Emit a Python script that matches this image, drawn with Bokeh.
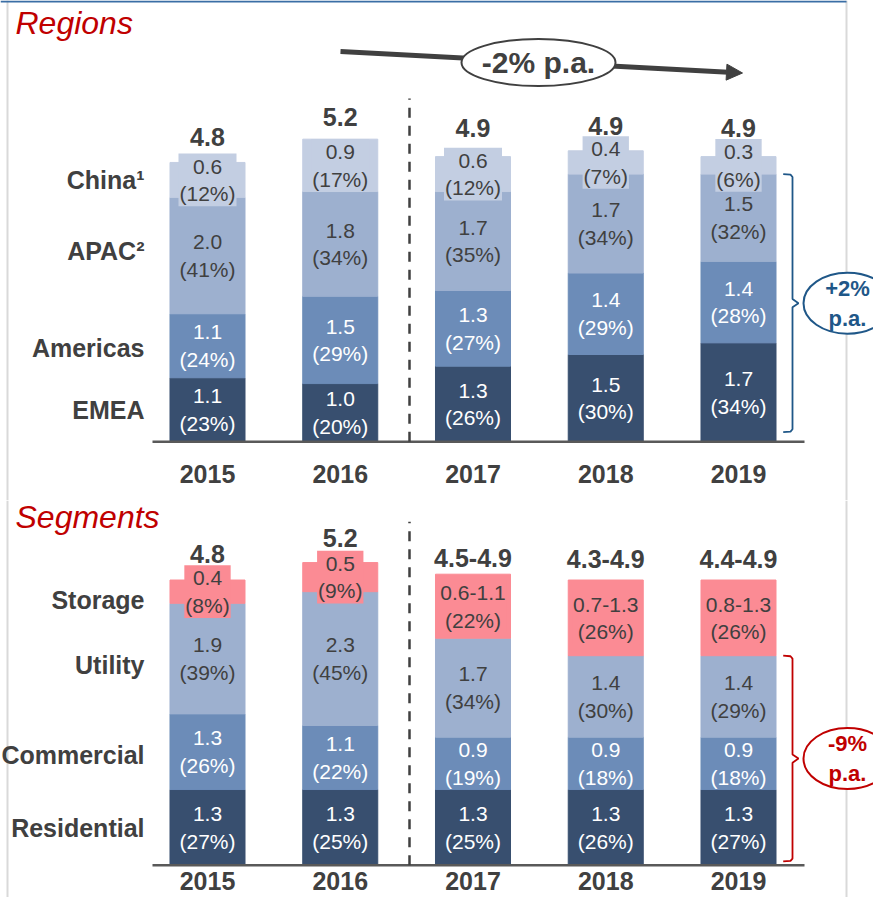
import numpy as np
from bokeh.plotting import figure
from bokeh.layouts import column
from bokeh.models import ColumnDataSource, Range1d, Span, Arrow, NormalHead
from bokeh.core.properties import value
from bokeh.embed import file_html
from bokeh.resources import INLINE

# ---------------- data ----------------
years = ["2015", "2016", "2017", "2018", "2019"]

region_names = ["EMEA", "Americas", "APAC²", "China¹"]
emea = [1.1, 1.0, 1.3, 1.5, 1.7]
emea_pct = [23, 20, 26, 30, 34]
americas = [1.1, 1.5, 1.3, 1.4, 1.4]
americas_pct = [24, 29, 27, 29, 28]
apac = [2.0, 1.8, 1.7, 1.7, 1.5]
apac_pct = [41, 34, 35, 34, 32]
china = [0.6, 0.9, 0.6, 0.4, 0.3]
china_pct = [12, 17, 12, 7, 6]
region_totals = ["4.8", "5.2", "4.9", "4.9", "4.9"]
region_trend = "-2% p.a."
region_ex_china_trend = "+2%\np.a."

segment_names = ["Residential", "Commercial", "Utility", "Storage"]
residential = [1.3, 1.3, 1.3, 1.3, 1.3]
residential_pct = [27, 25, 25, 26, 27]
commercial = [1.3, 1.1, 0.9, 0.9, 0.9]
commercial_pct = [26, 22, 19, 18, 18]
utility = [1.9, 2.3, 1.7, 1.4, 1.4]
utility_pct = [39, 45, 34, 30, 29]
storage_low = [0.4, 0.5, 0.6, 0.7, 0.8]
storage_high = [0.4, 0.5, 1.1, 1.3, 1.3]
storage_pct = [8, 9, 22, 26, 26]
segment_totals = ["4.8", "5.2", "4.5-4.9", "4.3-4.9", "4.4-4.9"]
segment_ex_storage_trend = "-9%\np.a."

# ---------------- style ----------------
FONT = value("Liberation Sans")
DARK = "#404040"
C_NAVY = "#384F6F"
C_MID = "#6C8CB8"
C_LIGHT = "#9DB0CF"
C_PALE = "#C3CEE2"
C_PINK = "#FB8B94"
RED = "#C00000"
BLUE = "#1F5788"

W = 873
H1, H2 = 500, 397
PX_X = 132.75          # px per category
PX_Y = 58.2            # px per unit
X0 = 207               # px of first bar centre
BASE1 = 441.3          # baseline px from top, top figure
BASE2 = 364.7          # baseline px from top, bottom figure
BAR_W = 0.565

# label offsets (px) of the total above each bar
top_total_dy = [-25, -22, -29, -25, -29]
bot_total_dy = [-26, -25, -16, -21.5, -21.5]


def dx(px):
    return (px - X0) / PX_X


def dy1(py):
    return (BASE1 - py) / PX_Y


def dy2(py):
    return (BASE2 + H1 - py) / PX_Y


idx = list(range(len(years)))


def make_fig(h, base):
    p = figure(width=W, height=h,
               x_range=Range1d(-X0 / PX_X, (W - X0) / PX_X),
               y_range=Range1d(-(h - base) / PX_Y, base / PX_Y),
               x_axis_type=None, y_axis_type=None,
               output_backend="svg", toolbar_location=None,
               min_border=0, outline_line_color=None,
               background_fill_color="white", border_fill_color="white")
    for xpx in (7, 846):
        p.add_layout(Span(location=dx(xpx), dimension="height",
                          line_color="#D9D9D9", line_width=2, level="underlay"))
    return p


def draw_panel(p, series, pcts, labels_txt, colors, text_colors, names,
               name_dy, totals, total_dy, title, ydata):
    data = {"x": idx}
    keys = []
    for i, s in enumerate(series):
        k = f"s{i}"
        keys.append(k)
        data[k] = s
    src = ColumnDataSource(data)
    p.vbar_stack(keys, x="x", width=BAR_W, fill_color=colors,
                 line_color=colors, line_width=1, source=src)

    bottoms = np.zeros(len(idx))
    centers_first = []
    for i, s in enumerate(series):
        s = np.array(s, dtype=float)
        mid = bottoms + s / 2
        centers_first.append(mid[0])
        txt = [f"{labels_txt[i][j]}\n({pcts[i][j]}%)" for j in idx]
        kw = {}
        if i == len(series) - 1:
            kw = dict(background_fill_color=colors[i], padding=1)
        p.text(x=idx, y=list(mid), text=txt, text_font=FONT,
               text_font_size="21px", text_color=text_colors[i],
               text_align="center", text_baseline="middle",
               text_line_height=1.2, **kw)
        bottoms = bottoms + s

    # category names
    nsrc = ColumnDataSource(dict(x=[0] * len(names), y=centers_first,
                                 t=names, dy=name_dy))
    p.text(x="x", y="y", text="t", y_offset="dy", x_offset=-63, source=nsrc,
           text_font=FONT, text_font_size="25px", text_font_style="bold",
           text_color=DARK, text_align="right", text_baseline="middle")

    # totals
    tsrc = ColumnDataSource(dict(x=idx, y=list(bottoms), t=totals, dy=total_dy))
    p.text(x="x", y="y", text="t", y_offset="dy", source=tsrc,
           text_font=FONT, text_font_size="25px", text_font_style="bold",
           text_color=DARK, text_align="center", text_baseline="middle")

    # baseline
    p.segment(x0=[dx(152)], y0=[0], x1=[dx(804)], y1=[0],
              line_color="#595959", line_width=2.5)

    # dashed separator between actuals and forecast
    p.segment(x0=[dx(409)], y0=[0], x1=[dx(409)], y1=[5.9],
              line_color=DARK, line_width=2.5, line_dash="10 8")

    # title
    p.text(x=[dx(15)], y=[ydata], text=[title], text_font=FONT,
           text_font_size="32px", text_font_style="italic",
           text_color=RED, text_align="left", text_baseline="middle")
    return bottoms


def bracket(p, x_v, y_top, y_bot, color):
    ym = (y_top + y_bot) / 2
    h = 0.07
    xs = [x_v - 0.07, x_v - 0.015, x_v, x_v, x_v + 0.045, x_v, x_v, x_v - 0.015, x_v - 0.07]
    ys = [y_top, y_top - 0.01, y_top - 0.05, ym + h, ym, ym - h, y_bot + 0.05, y_bot + 0.01, y_bot]
    p.line(xs, ys, line_color=color, line_width=1.8)
    return ym


# ---------------- top: regions ----------------
p1 = make_fig(H1, BASE1)
# header rule at the very top
p1.segment(x0=[dx(0)], y0=[dy1(1)], x1=[dx(846)], y1=[dy1(1)],
           line_color="#3A6EA5", line_width=2)
draw_panel(p1, [emea, americas, apac, china],
           [emea_pct, americas_pct, apac_pct, china_pct],
           [[f"{v:.1f}" for v in s] for s in [emea, americas, apac, china]],
           [C_NAVY, C_MID, C_LIGHT, C_PALE],
           ["white", "white", DARK, DARK],
           region_names, [0, 2, -5, 0], region_totals, top_total_dy,
           "Regions", dy1(22))

p1.text(x=idx, y=[0] * len(idx), text=years, y_offset=32,
        text_font=FONT, text_font_size="25px", text_font_style="bold",
        text_color=DARK, text_align="center", text_baseline="middle")

p1.add_layout(Arrow(end=NormalHead(size=16, fill_color=DARK, line_color=DARK),
                    x_start=dx(340), y_start=dy1(51), x_end=dx(742), y_end=dy1(72.5),
                    line_width=5, line_color=DARK, level="underlay"))
p1.ellipse(x=[dx(538)], y=[dy1(62)], width=[154], height=[47],
           width_units="screen", height_units="screen",
           fill_color="white", line_color=DARK, line_width=2)
p1.text(x=[dx(538)], y=[dy1(62)], text=[region_trend], text_font=FONT,
        text_font_size="30px", text_font_style="bold", text_color=DARK,
        text_align="center", text_baseline="middle")

ex_china_top = emea[-1] + americas[-1] + apac[-1]
ym1 = bracket(p1, dx(792), ex_china_top, 0.165, BLUE)
p1.ellipse(x=[dx(847)], y=[ym1], width=[88], height=[61],
           width_units="screen", height_units="screen",
           fill_color="white", line_color=BLUE, line_width=2)
p1.text(x=[dx(847)], y=[ym1], text=[region_ex_china_trend], text_font=FONT,
        text_font_size="22px", text_font_style="bold", text_color=BLUE,
        text_align="center", text_baseline="middle", text_line_height=1.2)

# ---------------- bottom: segments ----------------
p2 = make_fig(H2, BASE2)
storage_txt = [f"{lo:.1f}" if lo == hi else f"{lo:.1f}-{hi:.1f}"
               for lo, hi in zip(storage_low, storage_high)]
draw_panel(p2, [residential, commercial, utility, storage_high],
           [residential_pct, commercial_pct, utility_pct, storage_pct],
           [[f"{v:.1f}" for v in residential], [f"{v:.1f}" for v in commercial],
            [f"{v:.1f}" for v in utility], storage_txt],
           [C_NAVY, C_MID, C_LIGHT, C_PINK],
           ["white", "white", DARK, DARK],
           segment_names, [1, 3, 6, 8], segment_totals, bot_total_dy,
           "Segments", dy2(516))

p2.text(x=idx, y=[0] * len(idx), text=years, y_offset=16,
        text_font=FONT, text_font_size="25px", text_font_style="bold",
        text_color=DARK, text_align="center", text_baseline="middle")

ex_storage_top = residential[-1] + commercial[-1] + utility[-1]
ym2 = bracket(p2, dx(792), ex_storage_top, 0.064, RED)
p2.ellipse(x=[dx(847)], y=[ym2], width=[88], height=[61],
           width_units="screen", height_units="screen",
           fill_color="white", line_color=RED, line_width=2)
p2.text(x=[dx(847)], y=[ym2], text=[segment_ex_storage_trend], text_font=FONT,
        text_font_size="22px", text_font_style="bold", text_color=RED,
        text_align="center", text_baseline="middle", text_line_height=1.2)

layout = column(p1, p2, spacing=0)
open("out.html", "w").write(file_html(layout, INLINE))
